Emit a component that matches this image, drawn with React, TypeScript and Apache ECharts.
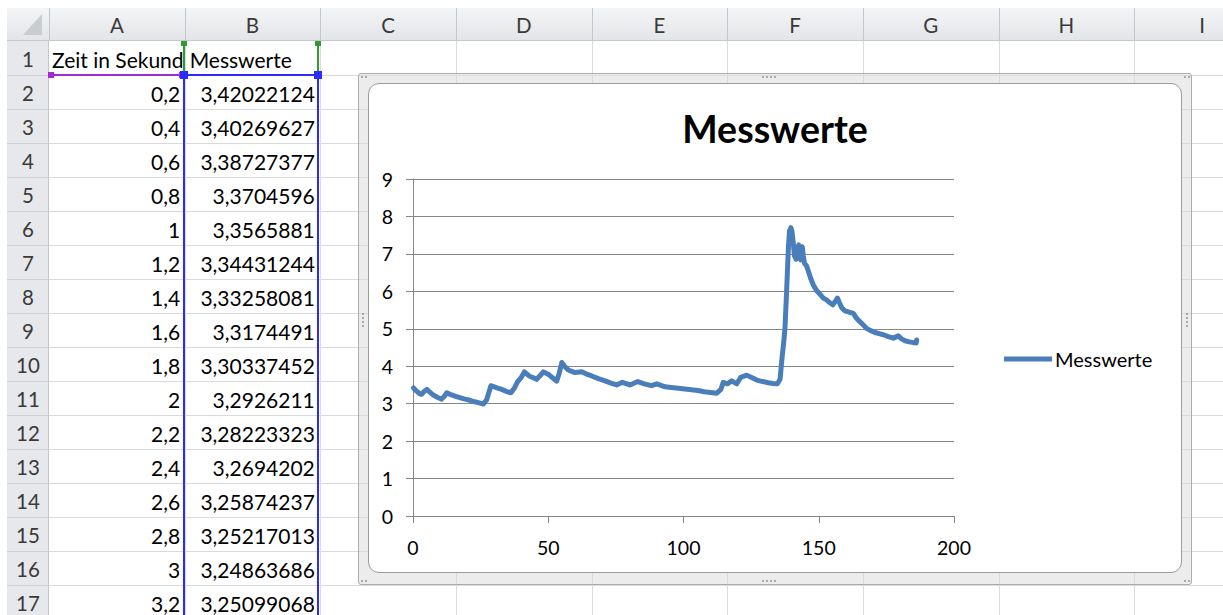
import React, { useEffect, useRef } from "react";
import * as echarts from "echarts";

// ---------- data ----------
const tableTimes = [0.2, 0.4, 0.6, 0.8, 1, 1.2, 1.4, 1.6, 1.8, 2, 2.2, 2.4, 2.6, 2.8, 3, 3.2];
const tableValues = [
  3.42022124, 3.40269627, 3.38727377, 3.3704596, 3.3565881, 3.34431244, 3.33258081, 3.3174491,
  3.30337452, 3.2926211, 3.28223323, 3.2694202, 3.25874237, 3.25217013, 3.24863686, 3.25099068,
];
const readTimes = [
  4.2, 5.1, 6.2, 7.5, 9.0, 10.6, 11.6, 12.5, 14.0, 15.5, 17.3, 19.2, 21.0, 22.9, 24.5, 26.0, 27.2, 28.8,
  30.8, 32.8, 34.5, 36.2, 37.5, 38.7, 40.0, 41.2, 42.9, 44.3, 45.7, 47.0, 48.2, 50.3, 51.8, 53.1, 54.0,
  55.0, 56.0, 57.4, 59.9, 62.4, 64.5, 66.1, 68.5, 71.0, 73.2, 75.3, 77.4, 80.2, 83.1, 85.5, 88.2, 90.1,
  93.2, 95.5, 98.1, 100.5, 103.0, 105.4, 107.7, 110.0, 112.3, 113.8, 114.7, 116.2, 117.8, 119.7, 121.1,
  123.4, 125.2, 127.1, 129.3, 131.4, 133.0, 134.7, 135.7, 136.4, 137.0, 137.5, 138.0, 138.4, 138.8,
  139.2, 139.7, 140.1, 140.6, 141.0, 141.6, 142.1, 142.6, 143.0, 143.3, 143.9, 144.3, 144.7, 145.5,
  146.1, 147.0, 148.0, 149.2, 150.5, 151.7, 152.9, 154.0, 155.2, 156.0, 156.9, 157.6, 158.5, 159.7,
  160.9, 162.8, 164.0, 165.2, 166.5, 167.7, 169.2, 170.8, 172.3, 173.9, 175.7, 177.6, 179.4, 180.6,
  181.9, 183.5, 185.0, 186.0, 186.2,
];
const readValues = [
  3.33, 3.38, 3.31, 3.23, 3.17, 3.12, 3.2, 3.29, 3.24, 3.2, 3.16, 3.12, 3.09, 3.05, 3.02, 2.99, 3.1, 3.48,
  3.43, 3.38, 3.33, 3.29, 3.42, 3.59, 3.7, 3.85, 3.74, 3.7, 3.65, 3.75, 3.85, 3.77, 3.68, 3.6, 3.8,
  4.1, 4.0, 3.9, 3.83, 3.85, 3.78, 3.74, 3.67, 3.61, 3.55, 3.5, 3.57, 3.5, 3.59, 3.53, 3.48, 3.53,
  3.45, 3.43, 3.41, 3.39, 3.37, 3.35, 3.32, 3.3, 3.28, 3.38, 3.57, 3.53, 3.61, 3.53, 3.7,
  3.76, 3.7, 3.63, 3.59, 3.56, 3.54, 3.53, 3.65, 4.2, 4.6, 5.0, 5.8, 6.5, 7.2,
  7.62, 7.7, 7.6, 7.28, 6.95, 6.86, 7.1, 7.24, 6.95, 6.84, 7.19, 6.95, 6.75, 6.68,
  6.55, 6.35, 6.17, 6.02, 5.92, 5.82, 5.77, 5.7, 5.64, 5.72, 5.82, 5.7, 5.56, 5.48,
  5.45, 5.41, 5.28, 5.19, 5.1, 5.01, 4.95, 4.9, 4.87, 4.84, 4.79, 4.75, 4.81, 4.73,
  4.68, 4.65, 4.63, 4.62, 4.7,
];
const columnLetters = ["A", "B", "C", "D", "E", "F", "G", "H", "I"];
const headerA = "Zeit in Sekunden";
const headerB = "Messwerte";
const chartTitle = "Messwerte";
const seriesName = "Messwerte";

// ---------- layout ----------
const FONT = "Lato, 'Open Sans', sans-serif";
const COL0 = 49;
const COLW = 135.66;
const ROW0 = 41;
const ROWH = 34;
const GRID = "#d9dadb";
const HEAD_LINE = "#c3c6ca";
const LINE_COLOR = "#4a7ebb";

const fmt = (n: number) => String(n).replace(".", ",");

function Sheet() {
  const els: React.ReactNode[] = [];
  els.push(
    <div key="colhead" style={{ position: "absolute", left: 7, top: 8, width: 1216, height: 33, background: "linear-gradient(#f4f5f6, #e3e5e8)", borderBottom: `1px solid ${HEAD_LINE}`, boxSizing: "border-box" }} />
  );
  els.push(
    <div key="rowhead" style={{ position: "absolute", left: 7, top: 41, width: 42, height: 600, background: "#e6e8eb", borderRight: `1px solid ${HEAD_LINE}`, boxSizing: "border-box" }} />
  );
  els.push(
    <svg key="corner" style={{ position: "absolute", left: 0, top: 0 }} width={60} height={45}>
      <polygon points="23,35 42,35 42,14" fill="#c9cdd1" />
    </svg>
  );
  for (let i = 0; i <= columnLetters.length; i++) {
    const x = COL0 + i * COLW;
    els.push(<div key={"cd" + i} style={{ position: "absolute", left: Math.round(x), top: 8, width: 1, height: 33, background: HEAD_LINE }} />);
  }
  columnLetters.forEach((c, i) => {
    els.push(
      <div key={"cl" + i} style={{ position: "absolute", left: COL0 + i * COLW, top: 9, width: COLW, height: 33, lineHeight: "33px", textAlign: "center", fontSize: 20.5, color: "#3a3a3a" }}>{c}</div>
    );
  });
  for (let i = 1; i <= columnLetters.length; i++) {
    const x = Math.round(COL0 + i * COLW);
    els.push(<div key={"vg" + i} style={{ position: "absolute", left: x, top: 41, width: 1, height: 580, background: GRID }} />);
  }
  for (let r = 1; r <= 17; r++) {
    const y = ROW0 + r * ROWH;
    els.push(<div key={"hg" + r} style={{ position: "absolute", left: 49, top: y, width: 1180, height: 1, background: GRID }} />);
    els.push(<div key={"hr" + r} style={{ position: "absolute", left: 7, top: y, width: 41, height: 1, background: "#cdd0d4" }} />);
  }
  for (let r = 1; r <= 17; r++) {
    const y = ROW0 + (r - 1) * ROWH;
    els.push(
      <div key={"rn" + r} style={{ position: "absolute", left: 7, top: y + 1, width: 42, height: ROWH, lineHeight: ROWH + "px", textAlign: "center", fontSize: 20.5, color: "#3a3a3a" }}>{r}</div>
    );
  }
  els.push(
    <div key="a1" style={{ position: "absolute", left: COL0 + 3, top: ROW0 + 2, width: COLW - 4, height: ROWH, lineHeight: ROWH + "px", fontSize: 21, color: "#000", whiteSpace: "nowrap", overflow: "hidden" }}>{headerA}</div>
  );
  els.push(
    <div key="b1" style={{ position: "absolute", left: COL0 + COLW + 5, top: ROW0 + 2, width: COLW - 6, height: ROWH, lineHeight: ROWH + "px", fontSize: 21, color: "#000", whiteSpace: "nowrap", overflow: "hidden" }}>{headerB}</div>
  );
  tableTimes.forEach((t, i) => {
    const y = ROW0 + (i + 1) * ROWH + 2;
    els.push(
      <div key={"ta" + i} style={{ position: "absolute", left: COL0, top: y, width: COLW - 4.5, height: ROWH, lineHeight: ROWH + "px", textAlign: "right", fontSize: 21, color: "#000" }}>{fmt(t)}</div>
    );
    els.push(
      <div key={"tb" + i} style={{ position: "absolute", left: COL0 + COLW, top: y, width: COLW - 5.5, height: ROWH, lineHeight: ROWH + "px", textAlign: "right", fontSize: 21, color: "#000" }}>{fmt(tableValues[i])}</div>
    );
  });
  const P = "#a12bd0", G = "#2f9a2f", B = "#2b2bff";
  els.push(<div key="p1" style={{ position: "absolute", left: 50, top: 74, width: 134, height: 2, background: P }} />);
  els.push(<div key="p2" style={{ position: "absolute", left: 48, top: 72, width: 6, height: 6, background: P }} />);
  els.push(<div key="p3" style={{ position: "absolute", left: 179, top: 72, width: 6, height: 6, background: P }} />);
  els.push(<div key="g1" style={{ position: "absolute", left: 183, top: 43, width: 2, height: 32, background: G }} />);
  els.push(<div key="g2" style={{ position: "absolute", left: 317, top: 43, width: 2, height: 32, background: G }} />);
  els.push(<div key="g3" style={{ position: "absolute", left: 181, top: 41, width: 6, height: 5, background: G }} />);
  els.push(<div key="g4" style={{ position: "absolute", left: 315, top: 41, width: 6, height: 5, background: G }} />);
  els.push(<div key="b1l" style={{ position: "absolute", left: 183, top: 75, width: 2, height: 545, background: B }} />);
  els.push(<div key="b2l" style={{ position: "absolute", left: 317, top: 75, width: 2, height: 545, background: B }} />);
  els.push(<div key="b3l" style={{ position: "absolute", left: 184, top: 74, width: 134, height: 2, background: B }} />);
  els.push(<div key="b4" style={{ position: "absolute", left: 180, top: 71, width: 8, height: 8, background: B }} />);
  els.push(<div key="b5" style={{ position: "absolute", left: 314, top: 71, width: 8, height: 8, background: B }} />);
  return <>{els}</>;
}

function Dots({ x, y, n, vertical }: { x: number; y: number; n: number; vertical?: boolean }) {
  const d: React.ReactNode[] = [];
  for (let i = 0; i < n; i++) {
    d.push(
      <div key={i} style={{ position: "absolute", left: x + (vertical ? 0 : i * 4), top: y + (vertical ? i * 4 : 0), width: 2, height: 2, background: "#a9a9a9" }} />
    );
  }
  return <>{d}</>;
}

export default function App() {
  const ref = useRef<HTMLDivElement>(null);
  useEffect(() => {
    if (!ref.current) return;
    const chart = echarts.init(ref.current, undefined, { renderer: "svg" });
    const data: [number, number][] = [];
    tableTimes.forEach((t, i) => data.push([t, tableValues[i]]));
    readTimes.forEach((t, i) => data.push([t, readValues[i]]));
    chart.setOption({
      animation: false,
      backgroundColor: "transparent",
      textStyle: { fontFamily: FONT },
      title: {
        text: chartTitle,
        left: "center",
        top: 20,
        textStyle: { fontFamily: FONT, fontSize: 37.5, fontWeight: "bold", color: "#000" },
      },
      legend: {
        left: 635,
        top: 265,
        padding: 0,
        icon: "rect",
        itemWidth: 48,
        itemHeight: 5,
        data: [seriesName],
        itemStyle: { color: LINE_COLOR },
        textStyle: { fontFamily: FONT, fontSize: 20, color: "#000", padding: [0, 0, 0, -2] },
      },
      grid: { left: 44, top: 95, width: 541, height: 337, containLabel: false },
      xAxis: {
        type: "value",
        min: 0,
        max: 200,
        interval: 50,
        axisLine: { show: true, lineStyle: { color: "#868686", width: 1 } },
        axisTick: { show: true, length: 7, lineStyle: { color: "#868686" } },
        axisLabel: { margin: 21, fontSize: 19.5, color: "#000", fontFamily: FONT },
        splitLine: { show: false },
      },
      yAxis: {
        type: "value",
        min: 0,
        max: 9,
        interval: 1,
        axisLine: { show: true, lineStyle: { color: "#868686", width: 1 } },
        axisTick: { show: true, length: 7, lineStyle: { color: "#868686" } },
        axisLabel: { margin: 20, fontSize: 19.5, color: "#000", fontFamily: FONT },
        splitLine: { show: true, lineStyle: { color: "#868686", width: 1 } },
      },
      series: [
        {
          name: seriesName,
          type: "line",
          data,
          symbol: "none",
          showSymbol: false,
          lineStyle: { color: LINE_COLOR, width: 5, cap: "round", join: "round" },
          itemStyle: { color: LINE_COLOR },
        },
      ],
    });
    return () => chart.dispose();
  }, []);

  return (
    <div style={{ position: "absolute", left: 0, top: 0, width: 1223, height: 615, overflow: "hidden", background: "#fff", fontFamily: FONT }}>
      <Sheet />
      <div style={{ position: "absolute", left: 358, top: 73, width: 834, height: 512, border: "1px solid #adadad", background: "rgba(220,220,220,0.55)", borderRadius: 3, boxSizing: "border-box" }} />
      <Dots x={762} y={76} n={4} />
      <Dots x={762} y={580} n={4} />
      <Dots x={1186} y={313} n={4} vertical />
      <Dots x={362} y={313} n={4} vertical />
      <Dots x={361} y={76} n={2} />
      <Dots x={1184} y={76} n={2} />
      <Dots x={361} y={580} n={2} />
      <Dots x={1184} y={580} n={2} />
      <div style={{ position: "absolute", left: 368, top: 83, width: 814, height: 490, background: "#fff", border: "1px solid #9c9c9c", borderRadius: 11, boxSizing: "border-box", overflow: "hidden" }}>
        <div ref={ref} style={{ position: "absolute", left: 0, top: 0, width: 812, height: 488 }} />
      </div>
    </div>
  );
}
